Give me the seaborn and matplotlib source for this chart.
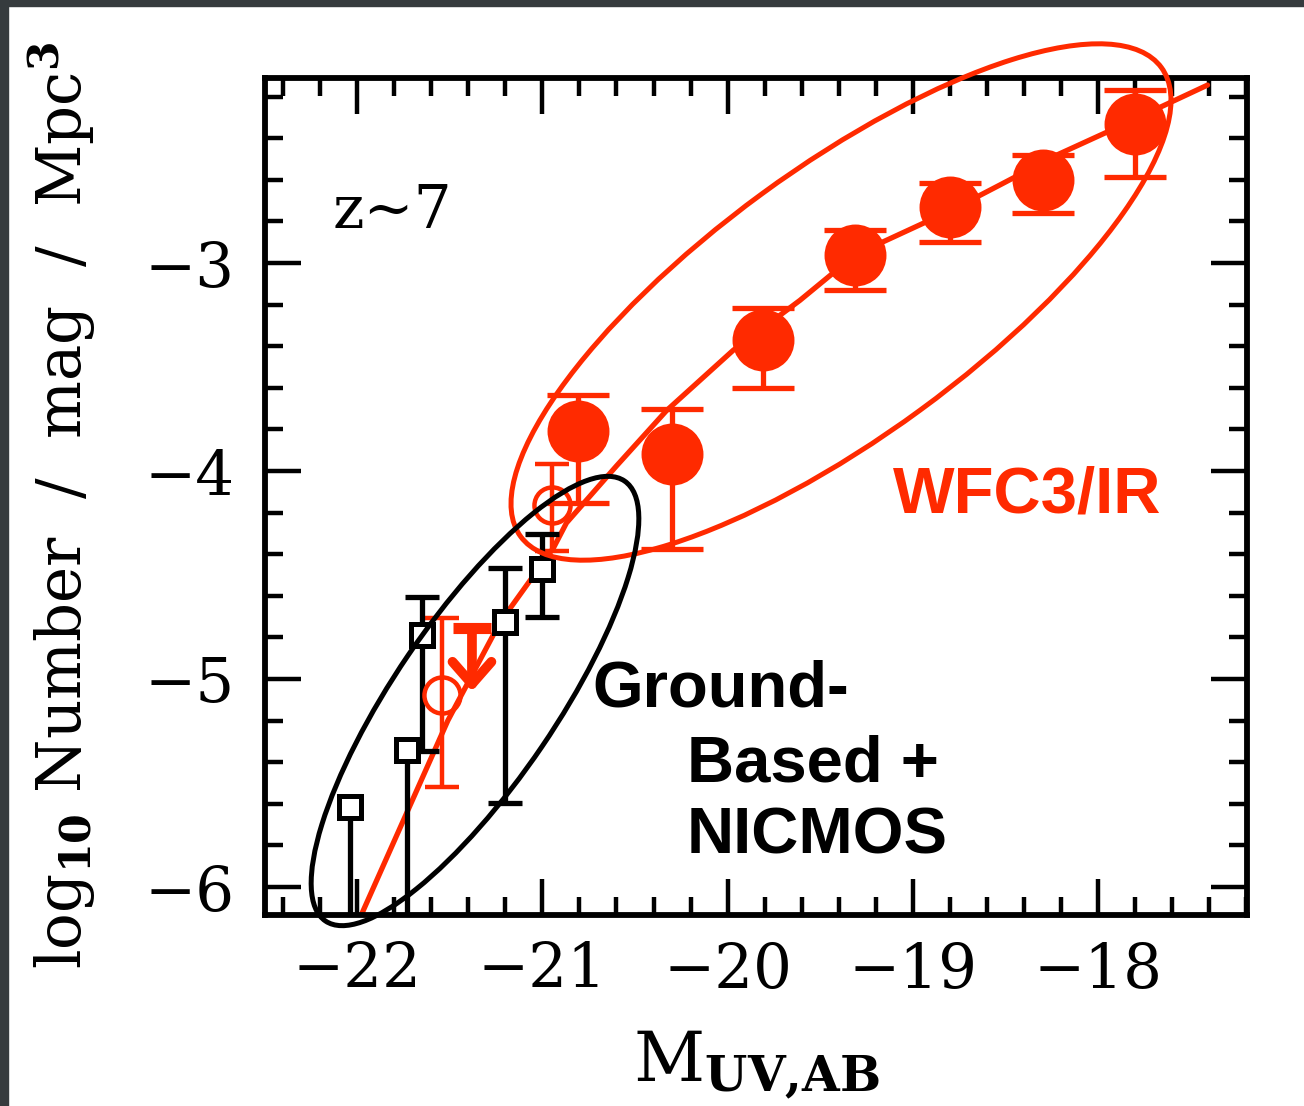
import matplotlib
matplotlib.use("Agg")
import matplotlib.pyplot as plt
import seaborn as sns
import pandas as pd
from matplotlib.patches import Ellipse, Rectangle
from matplotlib.transforms import Affine2D
from matplotlib.ticker import MultipleLocator

sns.set_theme(style="ticks")
plt.rcParams["font.family"] = ["DejaVu Serif"]
plt.rcParams["mathtext.fontset"] = "dejavuserif"
for key in ["text.color", "axes.labelcolor", "xtick.color", "ytick.color",
            "axes.edgecolor"]:
    plt.rcParams[key] = "black"

RED = "#ff2a00"

# WFC3/IR stepwise luminosity function (filled circles)
wfc3_mag = [-20.81, -20.30, -19.81, -19.31, -18.80, -18.30, -17.80]
wfc3_logphi = [-3.81, -3.92, -3.37, -2.96, -2.73, -2.60, -2.33]
wfc3_err_lo = [0.345, 0.457, 0.23, 0.168, 0.168, 0.159, 0.255]
wfc3_err_hi = [0.175, 0.216, 0.154, 0.12, 0.116, 0.12, 0.159]

# additional bright-end points (open circles)
ext_mag = [-20.95, -21.54]
ext_logphi = [-4.163, -5.077]
ext_err_lo = [0.222, 0.442]
ext_err_hi = [0.197, 0.37]

# upper limit
ul_mag = [-21.38]
ul_logphi = [-4.755]
ul_arrow_to = [-5.06]

# ground-based + NICMOS (open squares)
gb_mag = [-22.04, -21.73, -21.65, -21.20, -21.00]
gb_logphi = [-5.615, -5.341, -4.788, -4.726, -4.471]
gb_err_lo = [1.5, 1.5, 0.56, 0.87, 0.23]
gb_err_hi = [0.0, 0.0, 0.18, 0.26, 0.17]
gb_open_low = [True, True, False, False, False]

# Schechter fit
fit_mag = [-21.98, -21.71, -21.51, -21.23, -20.94, -20.87, -20.60, -20.33,
           -19.97, -19.61, -19.31, -18.80, -18.53, -18.22, -17.95, -17.41]
fit_logphi = [-6.14, -5.60, -5.20, -4.73, -4.37, -4.25, -3.976, -3.71,
              -3.42, -3.18, -2.96, -2.75, -2.625, -2.48, -2.37, -2.145]

xticks = [-22, -21, -20, -19, -18]
yticks = [-6, -5, -4, -3]

W, H = 1304, 1106
fig = plt.figure(figsize=(W / 100, H / 100), dpi=100)
fig.patch.set_facecolor("white")
ax = fig.add_axes([265 / W, 1 - 915 / H, (1247 - 265) / W, (915 - 78) / H])
ax.set_facecolor("white")

XMIN, XMAX = -22.497, -17.197
YMIN, YMAX = -6.135, -2.111
ax.set_xlim(XMIN, XMAX)
ax.set_ylim(YMIN, YMAX)
PXX = 982 / (XMAX - XMIN)
PXY = 837 / (YMAX - YMIN)

# fit curve
sns.lineplot(x=fit_mag, y=fit_logphi, sort=False, color=RED, lw=3.8, ax=ax,
             zorder=2)

# WFC3 points
ax.errorbar(wfc3_mag, wfc3_logphi, yerr=[wfc3_err_lo, wfc3_err_hi], fmt="none",
            ecolor=RED, elinewidth=3.8, capsize=22, capthick=3.8, zorder=3)
sns.scatterplot(x=wfc3_mag, y=wfc3_logphi, s=44.6 ** 2, color=RED,
                linewidth=0, ax=ax, zorder=4)

# open red circles
ax.errorbar(ext_mag, ext_logphi, yerr=[ext_err_lo, ext_err_hi], fmt="o",
            ms=26, mfc="none", mec=RED, mew=3.2, ecolor=RED, elinewidth=3.2,
            capsize=12, capthick=3.2, zorder=3)

# upper limit
ax.plot(ul_mag, ul_logphi, marker="_", ms=27, mew=8, color=RED, zorder=3)
for xm, y0, y1 in zip(ul_mag, ul_logphi, ul_arrow_to):
    ax.annotate("", xy=(xm, y1), xytext=(xm, y0),
                arrowprops=dict(arrowstyle="->,head_length=1.6,head_width=1.4",
                                mutation_scale=10, color=RED, lw=7,
                                shrinkA=0, shrinkB=0,
                                capstyle="round", joinstyle="round"),
                zorder=3)

# ground-based squares
gb = pd.DataFrame(dict(m=gb_mag, p=gb_logphi, lo=gb_err_lo, hi=gb_err_hi,
                       open_low=gb_open_low))
for flag, cap in [(True, 0), (False, 12.5)]:
    sub = gb[gb.open_low == flag]
    ax.errorbar(sub.m, sub.p, yerr=[sub.lo, sub.hi], fmt="none", ecolor="black",
                elinewidth=3.8, capsize=cap, capthick=3.8, zorder=3)
ax.plot(gb_mag, gb_logphi, ls="none", marker="s", ms=16, mfc="white",
        mec="black", mew=3.6, zorder=3.5)


def ring(cx_px, cy_px, a_px, b_px, angle, color):
    cx = XMIN + (cx_px - 265) / PXX
    cy = YMAX - (cy_px - 78) / PXY
    e = Ellipse((cx * PXX, cy * PXY), 2 * a_px, 2 * b_px, angle=angle,
                fill=False, ec=color, lw=3.6, clip_on=False, zorder=5)
    e.set_transform(Affine2D().scale(1 / PXX, 1 / PXY) + ax.transData)
    ax.add_patch(e)


ring(841, 302, 397, 134, 36.2, RED)
ring(475, 701, 266, 81, 55.8, "black")

# axes styling
ax.xaxis.set_major_locator(MultipleLocator(1))
ax.xaxis.set_minor_locator(MultipleLocator(0.2))
ax.yaxis.set_major_locator(MultipleLocator(1))
ax.yaxis.set_minor_locator(MultipleLocator(0.2))
ax.set_xticks(xticks)
ax.set_yticks(yticks)
ax.tick_params(which="both", direction="in", top=True, right=True,
               color="black", width=3.2)
ax.tick_params(which="major", length=26, labelsize=44, pad=18)
ax.tick_params(axis="y", which="major", pad=22)
ax.tick_params(which="minor", length=13)
for s in ax.spines.values():
    s.set_linewidth(4.2)
    s.set_color("black")
    s.set_visible(True)

ax.set_xlabel(r"$\mathrm{M}_{\mathbf{UV{,}AB}}$", fontsize=50)
ax.xaxis.set_label_coords(0.501, -0.135)
ax.set_ylabel(r"$\mathrm{log}_{\mathbf{10}}$ Number  /  mag  /  Mpc$^{\mathbf{3}}$",
              fontsize=44)
ax.yaxis.set_label_coords(-0.17, 0.49)

ax.text(-22.13, -2.832, "z~7", fontsize=43, ha="left", va="baseline")
sans = ["Liberation Sans", "DejaVu Sans"]
ax.text(-19.107, -4.202, "WFC3/IR", color=RED, fontsize=47, fontweight="bold",
        family=sans, ha="left", va="baseline")
ax.text(-20.732, -5.135, "Ground-", fontsize=47, fontweight="bold",
        family=sans, ha="left", va="baseline")
ax.text(-20.219, -5.495, "Based +", fontsize=47, fontweight="bold",
        family=sans, ha="left", va="baseline")
ax.text(-20.219, -5.837, "NICMOS", fontsize=47, fontweight="bold",
        family=sans, ha="left", va="baseline")

# dark frame along the top and left edges
fig.patches.append(Rectangle((0, 1 - 6 / H), 1, 6 / H, transform=fig.transFigure,
                             color="#363b3e", zorder=10))
fig.patches.append(Rectangle((0, 0), 8 / W, 1, transform=fig.transFigure,
                             color="#363b3e", zorder=10))

fig.savefig("out.png", dpi=100)
